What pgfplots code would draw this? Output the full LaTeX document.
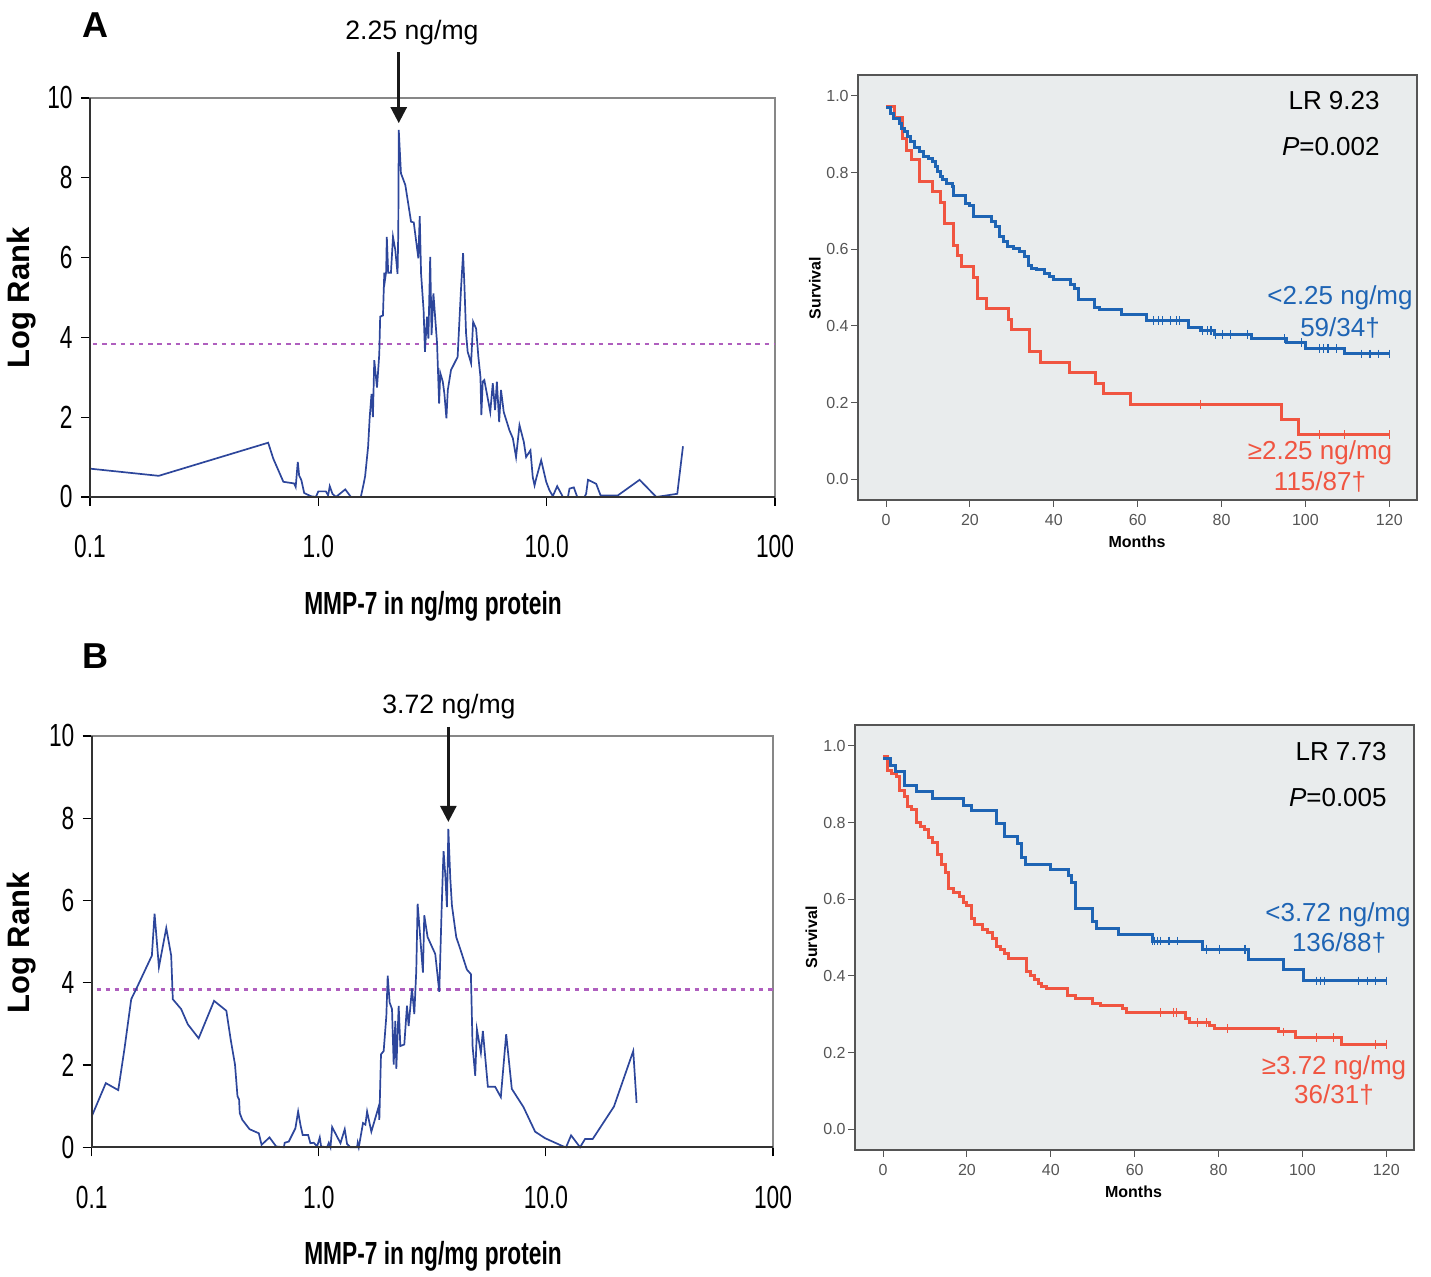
\documentclass[border=0pt]{standalone}
\usepackage{pgfplots}
\pgfplotsset{compat=1.18}
\usepackage{fontspec}
\setmainfont{Liberation Sans}
\newfontfamily\narrowfont[FakeStretch=0.71]{Liberation Sans}
\usetikzlibrary{arrows.meta}
\definecolor{lrblue}{RGB}{45,70,155}
\definecolor{lrpurple}{RGB}{175,95,190}
\definecolor{kmblue}{RGB}{30,100,180}
\definecolor{kmred}{RGB}{240,85,65}
\definecolor{kmbg}{RGB}{233,236,237}
\definecolor{framegray}{RGB}{135,135,135}
\definecolor{tickgray}{RGB}{85,85,85}
\pgfplotsset{
 lrstyle/.style={scale only axis, xmin=0.1, xmax=100, ymin=0, ymax=10,
  xtick={0.1,1,10,100}, xticklabels={0.1,1.0,10.0,100}, xminorticks=false,
  ytick={0,2,4,6,8,10}, yticklabels={0,2,4,6,8,10},
  tick align=outside, xtick pos=bottom, ytick pos=left, major tick length=4.5pt,
  tick style={black, line width=0.6pt},
  axis line style={framegray, line width=1pt},
  ticklabel style={font=\narrowfont\fontsize{16}{16}\selectfont},
  yticklabel style={anchor=east, inner sep=0pt, xshift=-4pt},
  xticklabel style={anchor=north, inner sep=0pt, yshift=-14.5pt},
  clip=false},
 kmstyle/.style={scale only axis, width=279.5pt, height=212.5pt,
  xmin=-6.68, xmax=126.6, ymin=-0.054, ymax=1.0548,
  axis background/.style={fill=kmbg},
  axis line style={tickgray, line width=1pt},
  xtick={0,20,40,60,80,100,120}, xticklabels={0,20,40,60,80,100,120},
  ytick={0,0.2,0.4,0.6,0.8,1}, yticklabels={0.0,0.2,0.4,0.6,0.8,1.0},
  tick align=outside, xtick pos=bottom, ytick pos=left, major tick length=3.5pt,
  tick style={tickgray, line width=0.5pt},
  ticklabel style={font=\fontsize{8}{8}\selectfont, text=tickgray},
  yticklabel style={anchor=east, inner sep=0pt, xshift=-1pt},
  xticklabel style={anchor=north, inner sep=0pt, yshift=-3.5pt}},
 lrline/.style={lrblue, line width=0.85pt},
 lrdot/.style={lrpurple, line width=1.2pt, dash pattern=on 2.2pt off 2.4pt},
 kmline/.style={const plot, line width=1.5pt},
 cens/.style={only marks, mark=|, mark size=2.2pt, line width=0.6pt}
}
\begin{document}
\begin{tikzpicture}
\useasboundingbox (0,0) rectangle (715.5pt,638.5pt);
% ---------------- Panel A left ----------------
\begin{semilogxaxis}[lrstyle, at={(45pt,390pt)}, anchor=south west, width=342.5pt, height=199.5pt]
\addplot[lrdot] coordinates {(0.103,3.84) (100,3.84)};
\addplot[lrline] coordinates {
(0.1,0.71) (0.2,0.53) (0.603,1.36) (0.635,0.96) (0.703,0.38) (0.783,0.34) (0.796,0.25) (0.813,0.88) (0.824,0.54) (0.843,0.42) (0.867,0.10) (0.927,0.02) (0.975,0) (1.0,0.14) (1.079,0.14) (1.104,0.04) (1.122,0.27) (1.153,0.08) (1.194,0) (1.312,0.19) (1.390,0) (1.535,0) (1.578,0.32) (1.603,0.52) (1.652,1.26) (1.679,2.0) (1.710,2.58) (1.734,2.0) (1.758,3.43) (1.807,2.74) (1.849,3.58) (1.866,4.52) (1.919,4.55) (1.945,5.62) (1.959,5.44) (1.982,5.65) (1.995,6.52) (2.023,5.62) (2.080,5.62) (2.123,6.52) (2.173,6.19) (2.223,5.59) (2.240,6.69) (2.25,9.20) (2.301,8.11) (2.404,7.82) (2.547,6.90) (2.618,6.88) (2.742,5.98) (2.780,7.04) (2.818,5.60) (2.891,4.68) (2.931,3.64) (2.992,4.52) (3.034,3.97) (3.090,6.02) (3.133,4.06) (3.192,5.10) (3.311,3.85) (3.381,2.34) (3.420,3.11) (3.508,2.89) (3.565,2.59) (3.639,1.97) (3.690,2.68) (3.811,3.18) (4.074,3.51) (4.217,5.23) (4.305,6.11) (4.365,5.27) (4.436,4.10) (4.508,3.64) (4.581,3.51) (4.667,3.35) (4.764,4.39) (4.909,4.22) (5.023,3.51) (5.129,3.01) (5.176,2.05) (5.248,2.89) (5.333,2.93) (5.559,2.38) (5.662,2.13) (5.808,2.85) (5.943,2.18) (6.053,2.89) (6.194,1.88) (6.310,2.68) (6.486,2.13) (6.871,1.67) (7.112,1.47) (7.345,1.00) (7.603,1.80) (7.943,1.38) (8.128,1.00) (8.492,1.17) (8.690,0.50) (8.851,0.29) (8.995,0.46) (9.462,0.92) (9.954,0.38) (10.28,0.17) (10.64,0.02) (11.12,0.27) (11.78,0) (12.39,0) (12.59,0.21) (13.15,0.24) (13.61,0) (14.66,0) (14.89,0.08) (15.17,0.43) (16.48,0.33) (17.22,0.04) (20.51,0.04) (25.53,0.43) (30.20,0) (37.33,0.08) (39.54,1.27)};
\draw[black!80, line width=1pt] (rel axis cs:0,1) -- (rel axis cs:0,0) -- (rel axis cs:1,0);
\draw[black!90, line width=1.3pt, -{Triangle[width=8pt,length=8pt]}] (axis cs:2.25,11.15) -- (axis cs:2.25,9.37);
\end{semilogxaxis}
% ---------------- Panel B left ----------------
\begin{semilogxaxis}[lrstyle, at={(45.85pt,64.85pt)}, anchor=south west, width=340.65pt, height=205.65pt]
\addplot[lrdot] coordinates {(0.105,3.84) (100,3.84)};
\addplot[lrline] coordinates {
(0.1,0.75) (0.1154,1.56) (0.1309,1.39) (0.1393,2.38) (0.1493,3.60) (0.1596,3.93) (0.1841,4.66) (0.1892,5.68) (0.1977,4.38) (0.2130,5.33) (0.2239,4.66) (0.2276,3.60) (0.2477,3.36) (0.2650,2.99) (0.2958,2.65) (0.3459,3.56) (0.3917,3.32) (0.4093,2.62) (0.4276,2.01) (0.4385,1.24) (0.4457,1.16) (0.4487,0.83) (0.4603,0.67) (0.4955,0.44) (0.5445,0.34) (0.5598,0.06) (0.6067,0.24) (0.6489,0.02) (0.7015,0) (0.7079,0.11) (0.7379,0.14) (0.7889,0.46) (0.8110,0.87) (0.8299,0.55) (0.8492,0.30) (0.8974,0.30) (0.9183,0.10) (0.9506,0.11) (0.9835,0.02) (1.010,0.24) (1.024,0.02) (1.088,0) (1.107,0.11) (1.126,0) (1.145,0.49) (1.246,0.10) (1.301,0.44) (1.332,0.08) (1.378,0) (1.474,0) (1.484,0.11) (1.50,0) (1.566,0.59) (1.604,0.55) (1.632,0.87) (1.704,0.38) (1.836,0.99) (1.848,0.67) (1.879,2.26) (1.931,2.34) (1.984,3.19) (2.011,4.17) (2.051,3.52) (2.101,3.36) (2.137,2.01) (2.173,3.07) (2.195,1.91) (2.248,3.44) (2.286,2.46) (2.380,2.50) (2.445,3.44) (2.487,2.95) (2.572,3.86) (2.634,3.24) (2.687,4.29) (2.724,5.92) (2.875,4.25) (2.914,5.64) (3.014,5.11) (3.257,4.70) (3.393,3.78) (3.474,5.76) (3.521,6.78) (3.545,7.20) (3.606,6.62) (3.667,5.84) (3.72,7.74) (3.794,6.54) (3.858,5.88) (4.030,5.11) (4.197,4.82) (4.489,4.32) (4.675,4.21) (4.755,2.46) (4.885,1.74) (4.969,2.87) (5.173,2.30) (5.279,2.83) (5.553,1.47) (5.980,1.47) (6.333,1.22) (6.686,2.75) (7.079,1.42) (7.965,0.98) (8.965,0.38) (9.920,0.22) (11.94,0.02) (12.27,0) (12.91,0.29) (14.14,0) (14.87,0.20) (16.07,0.20) (19.94,0.99) (24.25,2.34) (25.08,1.08)};
\draw[black!80, line width=1pt] (rel axis cs:0,1) -- (rel axis cs:0,0) -- (rel axis cs:1,0);
\draw[black!90, line width=1.3pt, -{Triangle[width=8pt,length=8pt]}] (axis cs:3.72,10.22) -- (axis cs:3.72,7.91);
\end{semilogxaxis}
% ---------------- Panel A right (KM) ----------------
\begin{axis}[kmstyle, at={(429pt,388.5pt)}, anchor=south west]
\addplot[kmline, kmred] coordinates {(0,0.972) (2.1,0.944) (4.0,0.890) (4.9,0.859) (6.0,0.833) (7.9,0.777) (11.1,0.751) (12.9,0.722) (14.0,0.668) (16.0,0.611) (17.0,0.583) (18.0,0.555) (20.8,0.527) (21.7,0.472) (24.0,0.446) (29.1,0.417) (29.9,0.390) (34.1,0.333) (36.8,0.305) (43.8,0.278) (49.9,0.251) (51.9,0.223) (58.2,0.196) (94.2,0.155) (98.3,0.117) (120,0.117)};
\addplot[cens, kmred] coordinates {(75.0,0.196) (103.4,0.117) (109.4,0.117) (120,0.117)};
\addplot[kmline, kmblue] coordinates {(0,0.970) (0.95,0.955) (1.9,0.942) (3.1,0.929) (3.7,0.916) (4.3,0.907) (5.1,0.894) (5.9,0.881) (6.9,0.866) (8.1,0.855) (9.0,0.843) (10.1,0.837) (11.1,0.829) (11.7,0.816) (12.2,0.803) (12.9,0.790) (13.5,0.781) (14.4,0.772) (15.9,0.763) (16.2,0.741) (19.0,0.720) (20.0,0.713) (20.8,0.685) (25.2,0.672) (26.2,0.659) (27.0,0.633) (27.9,0.620) (28.9,0.607) (30.3,0.603) (31.9,0.594) (33.1,0.581) (33.9,0.559) (34.7,0.550) (35.9,0.546) (37.9,0.537) (39.0,0.529) (40.0,0.522) (44.0,0.507) (45.0,0.498) (45.8,0.468) (49.8,0.447) (51.0,0.442) (56.2,0.429) (62.0,0.414) (72.2,0.397) (75.0,0.388) (78.2,0.378) (87.1,0.367) (95.4,0.356) (99.9,0.342) (109.2,0.327) (120,0.327)};
\addplot[cens, kmblue] coordinates {(63.8,0.414) (65.0,0.414) (66.0,0.414) (67.8,0.414) (69.2,0.414) (70.0,0.414) (75.4,0.388) (76.7,0.388) (77.5,0.388) (78.6,0.378) (80.2,0.378) (82.2,0.378) (86.2,0.378) (95.0,0.367) (99.1,0.356) (103.4,0.342) (104.4,0.342) (105.4,0.342) (107.4,0.342) (113.4,0.327) (115.4,0.327) (117.4,0.327) (120,0.327)};
\end{axis}
% ---------------- Panel B right (KM) ----------------
\begin{axis}[kmstyle, at={(427.5pt,63.5pt)}, anchor=south west]
\addplot[kmline, kmred] coordinates {(0,0.972) (1.1,0.937) (2.1,0.929) (3.3,0.920) (4.0,0.885) (5.1,0.868) (5.9,0.843) (6.9,0.833) (7.9,0.800) (8.9,0.791) (9.9,0.783) (10.9,0.760) (11.9,0.748) (12.9,0.716) (14.0,0.690) (14.8,0.670) (15.6,0.628) (16.8,0.618) (18.3,0.607) (19.2,0.591) (20.0,0.583) (21.0,0.550) (21.7,0.533) (23.6,0.522) (24.8,0.514) (26.0,0.498) (27.1,0.478) (27.9,0.470) (29.0,0.459) (29.9,0.446) (34.1,0.411) (35.1,0.400) (36.0,0.390) (37.1,0.381) (37.9,0.372) (38.9,0.366) (44.0,0.350) (45.8,0.340) (50.0,0.329) (51.9,0.322) (57.0,0.316) (58.0,0.305) (72.2,0.290) (73.0,0.278) (77.8,0.272) (79.0,0.263) (94.2,0.254) (98.3,0.239) (109.2,0.222) (120,0.222)};
\addplot[cens, kmred] coordinates {(66.2,0.305) (69.2,0.305) (70.0,0.305) (75.0,0.278) (77.2,0.278) (82.2,0.263) (95.4,0.254) (103.4,0.239) (107.4,0.239) (117.4,0.222) (120,0.222)};
\addplot[kmline, kmblue] coordinates {(0,0.968) (1.7,0.950) (2.9,0.933) (5.1,0.898) (8.1,0.880) (11.9,0.863) (19.2,0.846) (21.0,0.831) (27.0,0.797) (28.9,0.763) (32.1,0.746) (32.9,0.710) (34.0,0.692) (40.0,0.678) (44.2,0.663) (45.0,0.643) (45.9,0.577) (50.0,0.542) (51.0,0.524) (56.2,0.509) (64.2,0.491) (76.2,0.470) (87.1,0.443) (95.4,0.416) (100.2,0.387) (120,0.387)};
\addplot[cens, kmblue] coordinates {(64.2,0.491) (64.7,0.491) (65.4,0.491) (66.2,0.491) (68.2,0.491) (70.2,0.491) (77.2,0.470) (80.2,0.470) (86.3,0.470) (103.4,0.387) (104.4,0.387) (105.2,0.387) (113.4,0.387) (115.5,0.387) (117.5,0.387) (120,0.387)};
\end{axis}
% ---------------- Texts ----------------
\node[font=\bfseries\fontsize{18}{18}\selectfont] at (47.5pt,626pt) {A};
\node[font=\bfseries\fontsize{18}{18}\selectfont] at (47.5pt,310.5pt) {B};
\node[anchor=base, inner sep=0pt, font=\fontsize{13.3}{13.3}\selectfont] at (206pt,618.8pt) {2.25 ng/mg};
\node[anchor=base, inner sep=0pt, font=\fontsize{13.3}{13.3}\selectfont] at (224.5pt,281.5pt) {3.72 ng/mg};
\node[rotate=90, font=\bfseries\fontsize{15.5}{15.5}\selectfont] at (11pt,489.5pt) {Log Rank};
\node[rotate=90, font=\bfseries\fontsize{15.5}{15.5}\selectfont] at (11pt,167pt) {Log Rank};
\node[anchor=base, inner sep=0pt, font=\narrowfont\bfseries\fontsize{16}{16}\selectfont] at (216.5pt,331pt) {MMP-7 in ng/mg protein};
\node[anchor=base, inner sep=0pt, font=\narrowfont\bfseries\fontsize{16}{16}\selectfont] at (216.5pt,6pt) {MMP-7 in ng/mg protein};
\node[rotate=90, font=\bfseries\fontsize{8}{8}\selectfont] at (407.5pt,494.5pt) {Survival};
\node[rotate=90, font=\bfseries\fontsize{8}{8}\selectfont] at (405.75pt,169.75pt) {Survival};
\node[font=\bfseries\fontsize{8}{8}\selectfont] at (568.5pt,367.5pt) {Months};
\node[font=\bfseries\fontsize{8}{8}\selectfont] at (566.75pt,42.75pt) {Months};
\begin{scope}[every node/.style={inner sep=0pt, font=\fontsize{13}{13}\selectfont}]
\node[anchor=base east] at (690pt,583.5pt) {LR 9.23};
\node[anchor=base east] at (690pt,560.5pt) {\textit{P}=0.002};
\node[anchor=base, text=kmblue] at (670pt,486pt) {<2.25 ng/mg};
\node[anchor=base, text=kmblue] at (670pt,470pt) {59/34†};
\node[anchor=base, text=kmred] at (660pt,408.5pt) {≥2.25 ng/mg};
\node[anchor=base, text=kmred] at (660pt,393pt) {115/87†};
\node[anchor=base east] at (693.5pt,258pt) {LR 7.73};
\node[anchor=base east] at (693.5pt,235pt) {\textit{P}=0.005};
\node[anchor=base, text=kmblue] at (669pt,177.5pt) {<3.72 ng/mg};
\node[anchor=base, text=kmblue] at (669.5pt,162.5pt) {136/88†};
\node[anchor=base, text=kmred] at (667pt,101pt) {≥3.72 ng/mg};
\node[anchor=base, text=kmred] at (667pt,86.5pt) {36/31†};
\end{scope}
\end{tikzpicture}
\end{document}
